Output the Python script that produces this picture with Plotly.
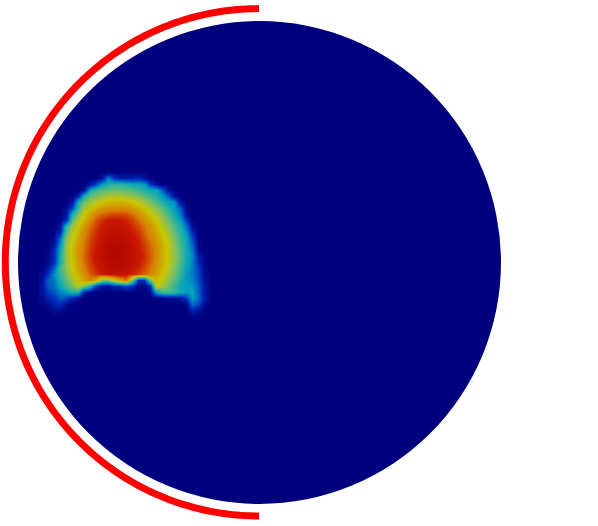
import numpy as np
import plotly.graph_objects as go

# Pixel-like data space of the picture
grid_x = [42 + 6 * i for i in range(29)]
grid_y = [172 + 6 * i for i in range(26)]

# Field values (0-100), one row per grid_y
field = [
 [0,0,0,0,0,0,0,0,0,0,0,0,0,0,0,0,0,0,0,0,0,0,0,0,0,0,0,0,0],
 [0,0,0,0,0,0,0,0,0,0,5,25,12,8,8,8,10,5,0,0,0,0,0,0,0,0,0,0,0],
 [0,0,0,0,0,0,0,0,5,15,30,35,38,38,35,32,32,30,14,3,0,0,0,0,0,0,0,0,0],
 [0,0,0,0,0,0,0,5,34,42,45,47,48,48,47,44,41,37,33,33,20,5,0,0,0,0,0,0,0],
 [0,0,0,0,0,0,8,38,46,50,54,57,58,58,56,54,51,47,41,36,30,20,5,0,0,0,0,0,0],
 [0,0,0,0,0,5,35,48,55,60,64,67,68,68,67,65,61,56,50,44,38,31,28,5,0,0,0,0,0],
 [0,0,0,0,3,15,40,56,63,68,73,75,76,76,75,73,69,64,58,52,45,37,30,20,1,0,0,0,0],
 [0,0,0,0,5,35,50,63,71,77,81,83,84,84,83,80,76,70,64,58,51,43,34,24,5,0,0,0,0],
 [0,0,0,2,10,45,59,68,76,83,87,89,90,90,88,85,80,75,70,63,56,48,39,30,14,0,0,0,0],
 [0,0,0,5,38,55,64,73,80,85,89,91,92,92,90,87,84,79,74,67,60,52,44,35,22,4,0,0,0],
 [0,0,1,8,45,59,68,76,82,87,90,92,93,93,92,89,86,81,76,70,63,56,47,38,28,10,0,0,0],
 [0,0,3,22,52,62,70,78,84,88,92,94,95,95,93,91,88,83,78,73,66,59,50,41,31,16,1,0,0],
 [0,0,5,28,54,64,72,79,85,89,93,95,96,95,94,92,89,85,80,75,68,61,52,43,33,20,2,0,0],
 [0,1,10,32,55,65,73,80,86,90,94,96,97,97,95,93,90,86,81,76,69,62,53,44,34,24,3,0,0],
 [0,2,10,36,55,65,73,81,86,91,94,96,97,97,95,93,90,87,82,76,69,62,54,45,34,26,8,1,0],
 [0,3,12,35,54,64,72,80,85,90,93,95,96,96,95,93,90,86,81,75,69,61,53,44,34,25,10,1,0],
 [1,6,20,42,53,63,71,78,84,88,92,94,95,94,93,91,88,84,79,74,67,60,51,42,32,24,15,2,0],
 [2,12,27,40,50,60,68,76,81,86,89,91,92,92,90,88,85,81,77,71,64,57,49,40,29,24,15,3,0],
 [4,20,24,36,46,56,64,72,77,70,50,50,62,72,80,50,12,10,50,67,61,53,45,36,30,26,17,4,0],
 [5,18,22,32,42,50,60,50,35,12,5,3,8,10,15,10,2,2,8,63,56,49,40,33,30,28,20,5,0],
 [4,14,18,25,30,38,35,5,2,0,0,0,0,0,0,0,0,0,3,30,40,42,40,34,30,32,20,6,1],
 [2,8,12,20,16,8,2,0,0,0,0,0,0,0,0,0,0,0,0,0,1,2,3,5,12,30,22,7,1],
 [1,3,8,10,3,1,0,0,0,0,0,0,0,0,0,0,0,0,0,0,0,0,0,0,1,22,15,3,0],
 [0,0,3,3,0,0,0,0,0,0,0,0,0,0,0,0,0,0,0,0,0,0,0,0,0,8,5,1,0],
 [0,0,0,0,0,0,0,0,0,0,0,0,0,0,0,0,0,0,0,0,0,0,0,0,0,1,1,0,0],
 [0,0,0,0,0,0,0,0,0,0,0,0,0,0,0,0,0,0,0,0,0,0,0,0,0,0,0,0,0],
]

disc_center = (259.5, 262.5)
disc_radius = 241.5
arc_center = (259.0, 262.3)
arc_radius = 253.7
arc_degrees = list(range(90, 271))

muted_jet = [[0, "#00007f"], [0.12, "#0030c0"], [0.30, "#00a0c0"], [0.42, "#40b890"],
             [0.53, "#90c050"], [0.63, "#c8c800"], [0.78, "#d88000"], [0.89, "#cc1800"],
             [1, "#a80000"]]

fig = go.Figure()
fig.add_shape(type="circle", layer="below", line_width=0, fillcolor="#00007f",
              x0=disc_center[0] - disc_radius, x1=disc_center[0] + disc_radius,
              y0=disc_center[1] - disc_radius, y1=disc_center[1] + disc_radius)
fig.add_trace(go.Heatmap(x=grid_x, y=grid_y, z=field, colorscale=muted_jet, zmin=0, zmax=100,
                         zsmooth="best", showscale=False, hoverinfo="skip"))
theta = np.radians(arc_degrees)
fig.add_trace(go.Scatter(x=arc_center[0] + arc_radius * np.cos(theta),
                         y=arc_center[1] - arc_radius * np.sin(theta),
                         mode="lines", line=dict(color="#ff0000", width=7, simplify=False),
                         hoverinfo="skip", showlegend=False))
fig.update_layout(width=598, height=526, margin=dict(l=0, r=0, t=0, b=0),
                  paper_bgcolor="white", plot_bgcolor="white", showlegend=False,
                  xaxis=dict(range=[0, 598], visible=False, fixedrange=True),
                  yaxis=dict(range=[526, 0], visible=False, fixedrange=True))
fig.write_html("out.html", config={"displayModeBar": False},
               post_script="document.body.style.margin='0';")
